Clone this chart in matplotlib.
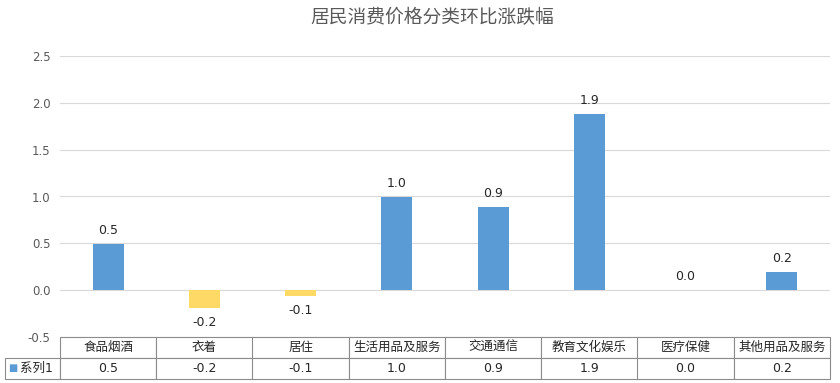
import numpy as np
import matplotlib.pyplot as plt

plt.rcParams['font.family'] = ['DejaVu Sans', 'Noto Sans CJK SC']

# data
categories = ['食品烟酒', '衣着', '居住', '生活用品及服务', '交通通信', '教育文化娱乐', '医疗保健', '其他用品及服务']
values = [0.49, -0.19, -0.06, 0.99, 0.89, 1.88, 0.0, 0.19]
series_name = '系列1'
title = '居民消费价格分类环比涨跌幅'

blue = '#5B9BD5'
yellow = '#FFD966'
grey_text = '#595959'

fig = plt.figure(figsize=(8.4, 3.83), dpi=100)
ax = fig.add_axes([60/840, 1-337/383, 770/840, 281/383])

x = np.arange(len(categories))
colors = [blue if v >= 0 else yellow for v in values]
bars = ax.bar(x, values, width=0.32, color=colors, zorder=3)

for xi, v in zip(x, values):
    if v >= 0:
        ax.annotate(f'{v:.1f}', (xi, v), xytext=(0, 5), textcoords='offset points',
                    ha='center', va='bottom', fontsize=9, color='#262626')
    else:
        ax.annotate(f'{v:.1f}', (xi, v), xytext=(0, -6), textcoords='offset points',
                    ha='center', va='top', fontsize=9, color='#262626')

ax.set_xlim(-0.5, len(categories)-0.5)
ax.set_ylim(-0.5, 2.5)
ticks = np.arange(-0.5, 2.51, 0.5)
ax.set_yticks(ticks)
ax.set_yticklabels([f'{t:.1f}' for t in ticks])
ax.tick_params(axis='y', length=0, labelsize=8.5, labelcolor=grey_text, pad=7)
ax.set_xticks([])
ax.grid(axis='y', color='#d9d9d9', linewidth=0.8, zorder=0)
for s in ax.spines.values():
    s.set_visible(False)

# data table under the bars, first column holds the series name
row_w = 55/770
ncat = len(categories)
tab = ax.table(cellText=[['  ' + series_name] + [f'{v:.1f}' for v in values]],
               colLabels=[''] + categories,
               colWidths=[row_w] + [1/ncat]*ncat,
               cellLoc='center',
               bbox=[-row_w, -42/281, 1+row_w, 42/281])
tab.auto_set_font_size(False)
tab.set_fontsize(9)
for (r, c), cell in tab.get_celld().items():
    cell.set_edgecolor('#8c8c8c')
    cell.set_linewidth(0.8)
    cell.get_text().set_color('#262626')
    if r == 0 and c == 0:
        cell.set_visible(False)
    if r == 1 and c == 0:
        cell.PAD = 0.02
tab[1, 0]._loc = 'left'
ax.text(-52/770, -31/281, '■', color=blue, fontsize=7, ha='left', va='center',
        transform=ax.transAxes, clip_on=False)

fig.text(432/840, 1-18/383, title, ha='center', va='center', fontsize=13.5, color=grey_text)

fig.savefig('out.png', dpi=100)
